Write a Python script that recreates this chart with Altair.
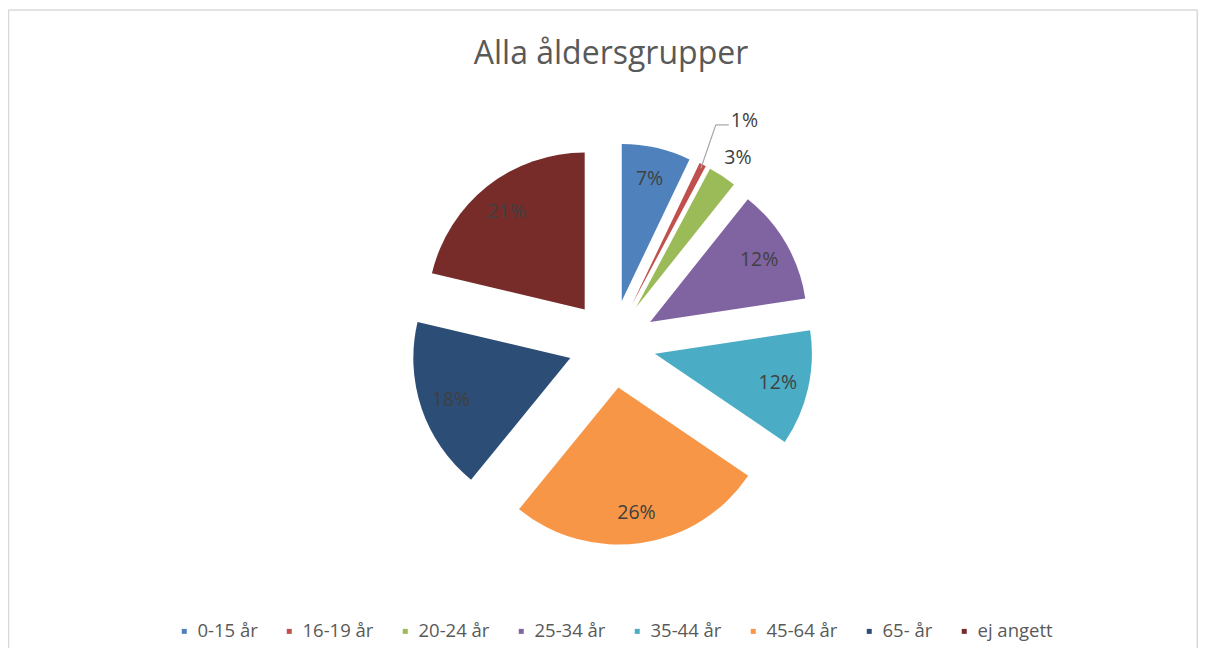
import math
import altair as alt
import pandas as pd

# ---- data (percent of all age groups) ----
title_text = "Alla åldersgrupper"
categories = ["0-15 år", "16-19 år", "20-24 år", "25-34 år", "35-44 år", "45-64 år", "65- år", "ej angett"]
values = [7.1, 0.7, 2.9, 11.9, 11.9, 26.4, 17.8, 21.3]
colors = ["#4F81BD", "#C0504D", "#9BBB59", "#8064A2", "#4BACC6", "#F79646", "#2C4D75", "#772C2A"]

df = pd.DataFrame({"grupp": categories, "andel": values, "ordning": list(range(len(categories)))})

# ---- layout (pixels in plot coordinates) ----
W, H = 1190, 640
CX, CY = 604, 336        # pie centre
EXPLODE = 44             # explosion distance of every slice
R = 157                  # pie radius
R_IN = 170               # radius of inside labels
R_OUT3 = 222             # radius of outside label (centered)
R_OUT1 = 250             # radius of outside label with leader
FONT = "Open Sans"
TEXT_COL = "#404040"

base = (
    alt.Chart(df)
    .transform_window(cum="sum(andel)", sort=[alt.SortField("ordning", order="ascending")], frame=[None, 0])
    .transform_joinaggregate(total="sum(andel)")
    .transform_calculate(
        start="(datum.cum - datum.andel) / datum.total",
        end="datum.cum / datum.total",
        mid="PI * (2 * datum.cum - datum.andel) / datum.total",
        frac="datum.andel / datum.total",
    )
    .transform_calculate(
        pct="format(datum.frac, '.0%')",
        px=f"{CX} + {EXPLODE} * sin(datum.mid)",
        py=f"{CY} - {EXPLODE} * cos(datum.mid)",
        lx=f"{CX} + {R_IN} * sin(datum.mid)",
        ly=f"{CY} - {R_IN} * cos(datum.mid) + 1",
        ox=f"{CX} + {R_OUT3} * sin(datum.mid) + 4",
        oy=f"{CY} - {R_OUT3} * cos(datum.mid)",
        qx=f"{CX} + {R_OUT1} * sin(datum.mid) + 6",
        qy=f"{CY} - {R_OUT1} * cos(datum.mid)",
        tx=f"{CX} + {EXPLODE + R - 4} * sin(datum.mid)",
        ty=f"{CY} - {EXPLODE + R - 4} * cos(datum.mid)",
    )
)

arcs = base.mark_arc(outerRadius=R).encode(
    theta=alt.Theta("start:Q", scale=alt.Scale(domain=[0, 1], range=[0, 2 * math.pi]), stack=None),
    theta2="end:Q",
    x=alt.X("px:Q", scale=None, axis=None),
    y=alt.Y("py:Q", scale=None, axis=None),
    color=alt.Color(
        "grupp:N",
        scale=alt.Scale(domain=categories, range=colors),
        sort=categories,
        legend=alt.Legend(
            title=None,
            orient="none",
            legendX=167,
            legendY=614,
            padding=0,
            direction="horizontal",
            symbolType="square",
            symbolSize=25,
            symbolStrokeWidth=0,
            labelFont=FONT,
            labelFontSize=18.5,
            labelColor="#595959",
            labelOffset=4,
            columnPadding=22,
        ),
    ),
)

inside = base.transform_filter("datum.frac >= 0.05").mark_text(
    font=FONT, fontSize=19.5, color=TEXT_COL, align="center", baseline="middle"
).encode(
    x=alt.X("lx:Q", scale=None, axis=None),
    y=alt.Y("ly:Q", scale=None, axis=None),
    text="pct:N",
)

outside_c = base.transform_filter("datum.frac < 0.05 && datum.frac >= 0.015").mark_text(
    font=FONT, fontSize=19.5, color=TEXT_COL, align="center", baseline="middle"
).encode(
    x=alt.X("ox:Q", scale=None, axis=None),
    y=alt.Y("oy:Q", scale=None, axis=None),
    text="pct:N",
)

small = base.transform_filter("datum.frac < 0.015")

outside_l = small.mark_text(font=FONT, fontSize=19.5, color=TEXT_COL, align="left", baseline="middle").encode(
    x=alt.X("qx:Q", scale=None, axis=None),
    y=alt.Y("qy:Q", scale=None, axis=None),
    text="pct:N",
)

leader1 = small.transform_calculate(cx="datum.qx - 15", cy="datum.qy + 4").mark_rule(
    color="#A6A6A6", strokeWidth=1.2
).encode(
    x=alt.X("tx:Q", scale=None, axis=None),
    y=alt.Y("ty:Q", scale=None, axis=None),
    x2="cx:Q",
    y2="cy:Q",
)
leader2 = small.transform_calculate(cx="datum.qx - 15", cy="datum.qy + 4", ex="datum.qx - 2").mark_rule(
    color="#A6A6A6", strokeWidth=1.2
).encode(
    x=alt.X("cx:Q", scale=None, axis=None),
    y=alt.Y("cy:Q", scale=None, axis=None),
    x2="ex:Q",
    y2="cy:Q",
)

title = alt.Chart(pd.DataFrame({"t": [title_text]})).mark_text(
    font=FONT, fontSize=32, color="#595959", align="center", baseline="middle"
).encode(text="t:N", x=alt.value(603), y=alt.value(46))

border_col = "#D9D9D9"
b_left = alt.Chart(pd.DataFrame({"k": [0]})).mark_rule(color=border_col, strokeWidth=1.5).encode(
    x=alt.value(0.5), y=alt.value(2), y2=alt.value(H)
)
b_top = alt.Chart(pd.DataFrame({"k": [0]})).mark_rule(color=border_col, strokeWidth=1.5).encode(
    x=alt.value(0.5), x2=alt.value(W - 0.5), y=alt.value(2)
)
b_right = alt.Chart(pd.DataFrame({"k": [0]})).mark_rule(color=border_col, strokeWidth=1.5).encode(
    x=alt.value(W - 0.75), y=alt.value(2), y2=alt.value(H)
)

chart = (
    alt.layer(b_left, b_top, b_right, title, arcs, inside, outside_c, leader1, leader2, outside_l)
    .properties(width=W, height=H, padding=0, autosize="none")
    .configure_view(stroke=None)
)

chart.save("out.html", embed_options={"renderer": "svg", "actions": False})
